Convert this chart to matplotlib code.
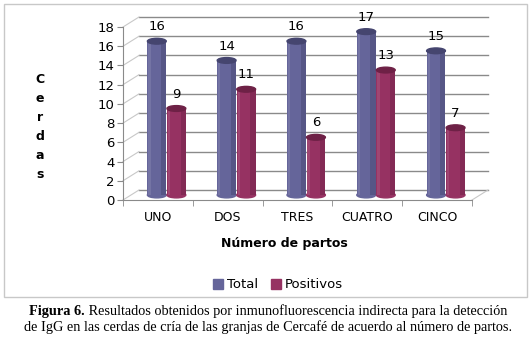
import numpy as np
import matplotlib
matplotlib.use("Agg")
import matplotlib.pyplot as plt
from matplotlib.patches import Rectangle, Ellipse

# datos
categorias = ["UNO", "DOS", "TRES", "CUATRO", "CINCO"]
total = [16, 14, 16, 17, 15]
positivos = [9, 11, 6, 13, 7]
series = ["Total", "Positivos"]
y_ticks = list(range(0, 19, 2))

col_total = "#65659a"
col_pos = "#963262"

W, H = 532, 338
fig = plt.figure(figsize=(W / 100, H / 100), dpi=100)

# marco del grafico
fig.patches.append(Rectangle((4 / W, (H - 297) / H), 523 / W, 293 / H,
                             transform=fig.transFigure, fill=False,
                             edgecolor="#c8c8c8", linewidth=1))

# ejes (plano frontal) en pixeles
x0, x1, yb, yt = 123, 472, 200, 27
ax = fig.add_axes([x0 / W, (H - yb) / H, (x1 - x0) / W, (yb - yt) / H])
ax.set_xlim(-0.5, len(categorias) - 0.5)
ax.set_ylim(0, 18)
ax.patch.set_visible(False)

px_x = (x1 - x0) / len(categorias)   # pixeles por unidad x
px_y = (yb - yt) / 18                 # pixeles por unidad y
dx, dy = 16 / px_x, 10 / px_y         # profundidad

# pared del fondo y lateral
gris = "#8a8a8a"
for yv in y_ticks:
    ax.plot([-0.5 + dx, 4.5 + dx], [yv + dy, yv + dy], color=gris, lw=1, clip_on=False, zorder=1)
    ax.plot([-0.5, -0.5 + dx], [yv, yv + dy], color="#c8c8c8", lw=0.8, clip_on=False, zorder=1)
ax.plot([4.5, 4.5 + dx], [0, dy], color="#c8c8c8", lw=0.8, clip_on=False, zorder=1)

# barras cilindricas
bw = 0.27
def cilindro(xc, v, c, dark):
    xm, ym = xc + dx / 2, dy / 2
    ax.add_patch(Ellipse((xm, ym), bw, 0.6, color=c, zorder=3, clip_on=False))
    ax.add_patch(Rectangle((xm - bw / 2, ym), bw, v, color=c, zorder=3, clip_on=False, lw=0))
    ax.add_patch(Rectangle((xm + bw * 0.22, ym), bw * 0.28, v, color=dark, alpha=0.45,
                           zorder=3, clip_on=False, lw=0))
    ax.add_patch(Rectangle((xm - bw * 0.45, ym), bw * 0.12, v, color="white", alpha=0.1,
                           zorder=3, clip_on=False, lw=0))
    ax.add_patch(Ellipse((xm, ym + v), bw, 0.6, color=dark, zorder=4, clip_on=False))
    ax.text(xm, ym + v + 1.5, str(v), ha="center", va="center", fontsize=9.5,
            color="black", zorder=5, clip_on=False)

for i in range(len(categorias)):
    cilindro(i - 0.13, total[i], col_total, "#45456f")
    cilindro(i + 0.15, positivos[i], col_pos, "#6e2146")

# ejes y ticks
for s in ["top", "right"]:
    ax.spines[s].set_visible(False)
ax.spines["left"].set_color(gris)
ax.spines["bottom"].set_color(gris)
ax.set_yticks(y_ticks)
ax.tick_params(axis="y", length=4, color=gris, labelsize=9.5, pad=2)
ax.set_xticks(range(len(categorias)))
ax.set_xticklabels(categorias)
ax.set_xticks(np.arange(-0.5, len(categorias), 1), minor=True)
ax.tick_params(axis="x", which="major", length=0, labelsize=9, pad=8)
ax.tick_params(axis="x", which="minor", length=4, color=gris)

# titulos de ejes
fig.text(40 / W, 1 - 127 / H, "C\ne\nr\nd\na\ns", ha="center", va="center",
         fontsize=9, fontweight="bold", linespacing=1.6)
fig.text(284 / W, 1 - 244 / H, "Número de partos", ha="center", va="center",
         fontsize=9, fontweight="bold")

# leyenda
handles = [Rectangle((0, 0), 1, 1, color=col_total), Rectangle((0, 0), 1, 1, color=col_pos)]
fig.legend(handles, series, loc="center", bbox_to_anchor=(278 / W, 1 - 285 / H),
           ncol=2, frameon=False, fontsize=9.5, handlelength=0.75, handleheight=0.75,
           handletextpad=0.3, columnspacing=1.0, borderpad=0)

# pie de figura
serif = "Liberation Serif"
fig.canvas.draw()
r = fig.canvas.get_renderer()
lineas = [("Figura 6.", " Resultados obtenidos por inmunofluorescencia indirecta para la detección"),
          ("", "de IgG en las cerdas de cría de las granjas de Cercafé de acuerdo al número de partos.")]
for k, (neg, resto) in enumerate(lineas):
    yy = 1 - (311 + 16 * k) / H
    t1 = fig.text(0, yy, neg, fontsize=10.3, fontweight="bold", family=serif, va="center")
    t2 = fig.text(0, yy, resto, fontsize=10.3, family=serif, va="center")
    w1 = t1.get_window_extent(r).width if neg else 0
    w2 = t2.get_window_extent(r).width
    start = 268 - (w1 + w2) / 2
    t1.set_x(start / W)
    t2.set_x((start + w1) / W)

fig.savefig("out.png", dpi=100)
